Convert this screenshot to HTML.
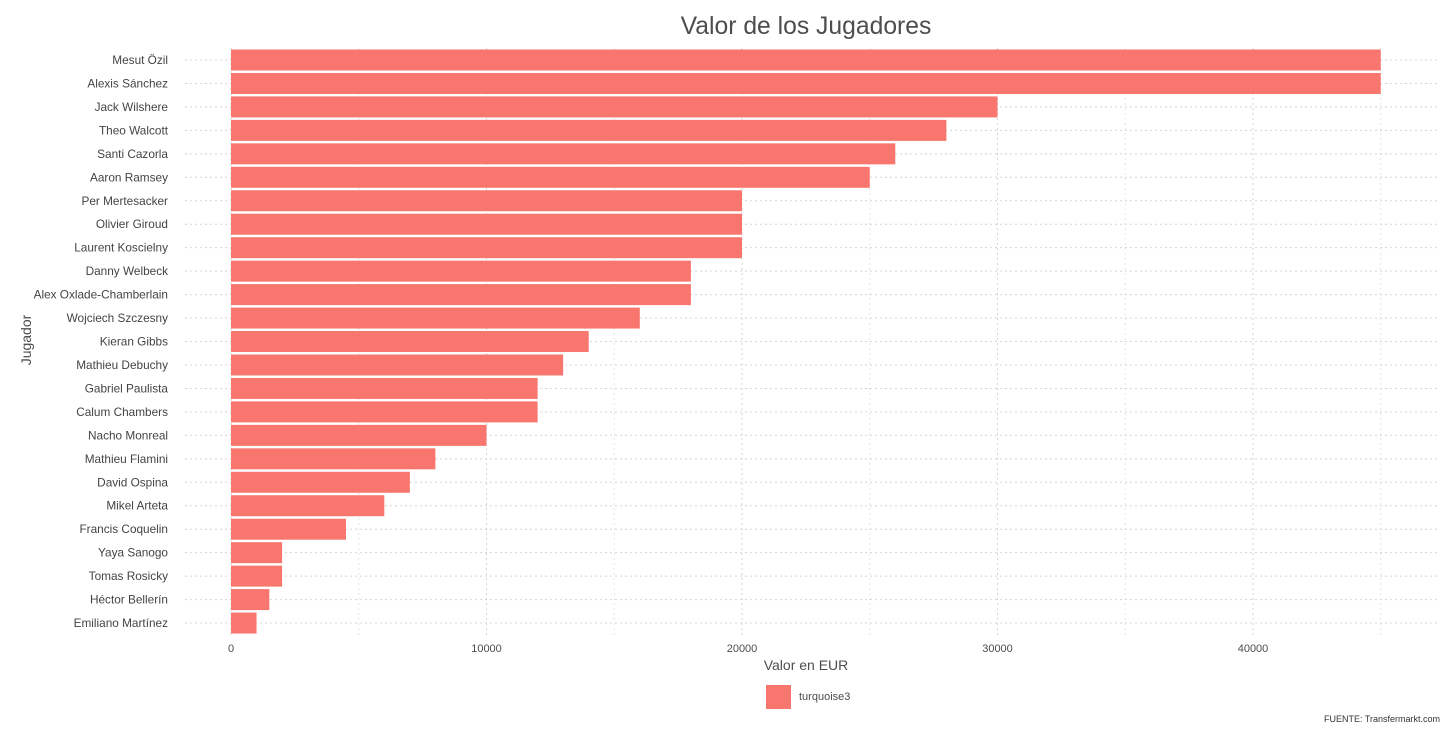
<!DOCTYPE html>
<html><head><meta charset="utf-8"><style>
body{margin:0;background:#fff;font-family:"Liberation Sans",sans-serif}
</style></head><body>
<svg id="c" width="1456" height="743" xmlns="http://www.w3.org/2000/svg"></svg>
<script>
const players=["Mesut Özil","Alexis Sánchez","Jack Wilshere","Theo Walcott","Santi Cazorla","Aaron Ramsey","Per Mertesacker","Olivier Giroud","Laurent Koscielny","Danny Welbeck","Alex Oxlade-Chamberlain","Wojciech Szczesny","Kieran Gibbs","Mathieu Debuchy","Gabriel Paulista","Calum Chambers","Nacho Monreal","Mathieu Flamini","David Ospina","Mikel Arteta","Francis Coquelin","Yaya Sanogo","Tomas Rosicky","Héctor Bellerín","Emiliano Martínez"];
const values=[45000,45000,30000,28000,26000,25000,20000,20000,20000,18000,18000,16000,14000,13000,12000,12000,10000,8000,7000,6000,4500,2000,2000,1500,1000];
const ticks=[0,10000,20000,30000,40000];
const minorTicks=[5000,15000,25000,35000,45000];
const svg=document.getElementById('c');
const NS='http://www.w3.org/2000/svg';
const x=v=>231+v*0.02555;
const y=i=>60+i*23.46;
function mk(t,a,p){const e=document.createElementNS(NS,t);for(const k in a)e.setAttribute(k,a[k]);(p||svg).appendChild(e);return e;}
const L=185,R=1440,T=48,B=636;
minorTicks.forEach(v=>{const l=mk('line',{x1:x(v),x2:x(v),y1:T,y2:B,stroke:'#e6e6e6','stroke-dasharray':'2,3'});

});
ticks.forEach(v=>{const l=mk('line',{x1:x(v),x2:x(v),y1:T,y2:B,stroke:'#d4d4d4','stroke-dasharray':'2,3'});


const t=mk('text',{x:x(v),y:652,'text-anchor':'middle','font-size':11,fill:'#4d4d4d'});t.textContent=v;

});
players.forEach((p,i)=>{const l=mk('line',{x1:L,x2:R,y1:y(i),y2:y(i),stroke:'#d4d4d4','stroke-dasharray':'2,3'});

});
players.forEach((p,i)=>{
const r=mk('rect',{x:x(0),y:y(i)-10.5,width:x(values[i])-x(0),height:21,fill:'#F8766D'});


const t=mk('text',{x:168,y:y(i)+4,'text-anchor':'end','font-size':11.8,fill:'#444'});t.textContent=p;

});
</script>
<div style="position:absolute;left:0;top:0;width:1456px;height:743px;pointer-events:none">
<div style="position:absolute;left:0;width:1612px;top:13px;text-align:center;font-size:24.7px;color:#4d4d4d">Valor de los Jugadores</div>
<div style="position:absolute;left:0;width:1612px;top:657px;text-align:center;font-size:14px;color:#4d4d4d">Valor en EUR</div>
<div style="position:absolute;left:26px;top:340px;transform:translate(-50%,-50%) rotate(-90deg);font-size:14px;color:#4d4d4d;white-space:nowrap">Jugador</div>
<div style="position:absolute;left:766px;top:685px;display:flex;align-items:center;font-size:11px;color:#4d4d4d"><span style="display:inline-block;width:25px;height:24px;background:#F8766D;margin-right:8px"></span>turquoise3</div>
<div style="position:absolute;right:16px;top:714px;font-size:9px;color:#333">FUENTE: Transfermarkt.com</div>
</div>
</body></html>
